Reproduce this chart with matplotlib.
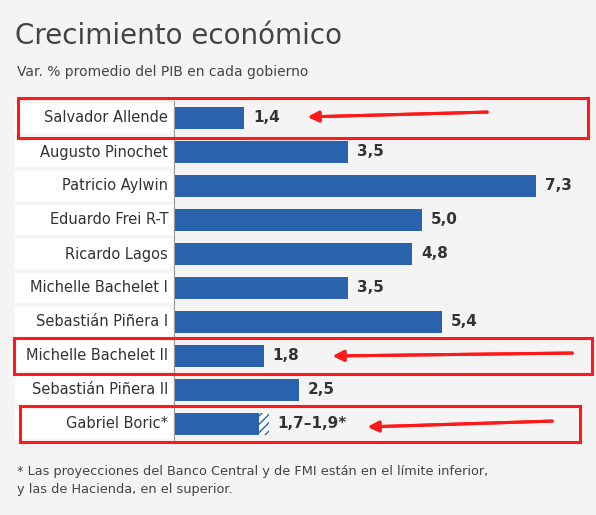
import matplotlib.pyplot as plt
from matplotlib.patches import Rectangle

presidents = ['Salvador Allende', 'Augusto Pinochet', 'Patricio Aylwin', 'Eduardo Frei R-T',
              'Ricardo Lagos', 'Michelle Bachelet I', 'Sebastián Piñera I', 'Michelle Bachelet II',
              'Sebastián Piñera II', 'Gabriel Boric*']
growth = [1.4, 3.5, 7.3, 5.0, 4.8, 3.5, 5.4, 1.8, 2.5, 1.7]
boric_high = 1.9
value_labels = ['1,4', '3,5', '7,3', '5,0', '4,8', '3,5', '5,4', '1,8', '2,5', '1,7–1,9*']

W, H = 596, 515
blue = '#2b62ad'
fig = plt.figure(figsize=(W / 100, H / 100), dpi=100)
fig.patch.set_facecolor('#f4f4f4')

def fx(px):
    return px / W

def fy(py):
    return 1 - py / H

ax = fig.add_axes([fx(175), fy(441), fx(405), (441 - 101) / H])
ax.set_facecolor('none')
ax.set_xlim(0, 405 / 49.4)
ax.set_ylim(9.5, -0.5)
ax.axis('off')

n = len(presidents)
for i in range(n):
    ax.barh(i, growth[i], height=0.66, color=blue)
    end = growth[i]
    if i == 9:
        ax.barh(i, boric_high - growth[i], left=growth[i], height=0.66,
                color='white', edgecolor=blue, hatch='////', linewidth=0)
        end = boric_high
    ax.text(end + 0.18, i, value_labels[i], va='center', ha='left',
            fontsize=11, fontweight='bold', color='#333333')
    # label cell
    ypix = 118 + 34 * i
    fig.patches.append(Rectangle((fx(15), fy(ypix + 15)), fx(158), 30 / H,
                                 transform=fig.transFigure, facecolor='white',
                                 edgecolor='none', zorder=0))
    fig.text(fx(168), fy(ypix), presidents[i], ha='right', va='center',
             fontsize=10.5, color='#333333')

# axis line
fig.lines.append(plt.Line2D([fx(174), fx(174)], [fy(101), fy(441)],
                            transform=fig.transFigure, color='#999999', lw=0.8))

# red highlight boxes and arrows
boxes = [(18, 98, 570, 40), (14, 338, 578, 36), (20, 406, 560, 36)]
arrows = [(490, 112, 305, 117), (575, 353, 330, 356), (555, 421, 365, 427)]
for x, y, w, h in boxes:
    fig.patches.append(Rectangle((fx(x), fy(y + h)), fx(w), h / H,
                                 transform=fig.transFigure, facecolor='none',
                                 edgecolor='#ff1a1a', lw=2.2, zorder=5))
for x0, y0, x1, y1 in arrows:
    fig.add_artist(plt.annotate('', xy=(fx(x1), fy(y1)), xytext=(fx(x0), fy(y0)),
                                xycoords='figure fraction',
                                arrowprops=dict(arrowstyle='-|>', color='#ff1a1a',
                                                lw=2.2, mutation_scale=16)))

fig.text(fx(15), fy(36), 'Crecimiento económico', fontsize=20, color='#444444',
         va='center', ha='left')
fig.text(fx(17), fy(72), 'Var. % promedio del PIB en cada gobierno', fontsize=10,
         color='#444444', va='center', ha='left')
fig.text(fx(17), fy(480),
         '* Las proyecciones del Banco Central y de FMI están en el límite inferior,\n'
         'y las de Hacienda, en el superior.', fontsize=9.3, color='#444444',
         va='center', ha='left', linespacing=1.5)

fig.savefig('out.png', dpi=100, facecolor=fig.get_facecolor())
